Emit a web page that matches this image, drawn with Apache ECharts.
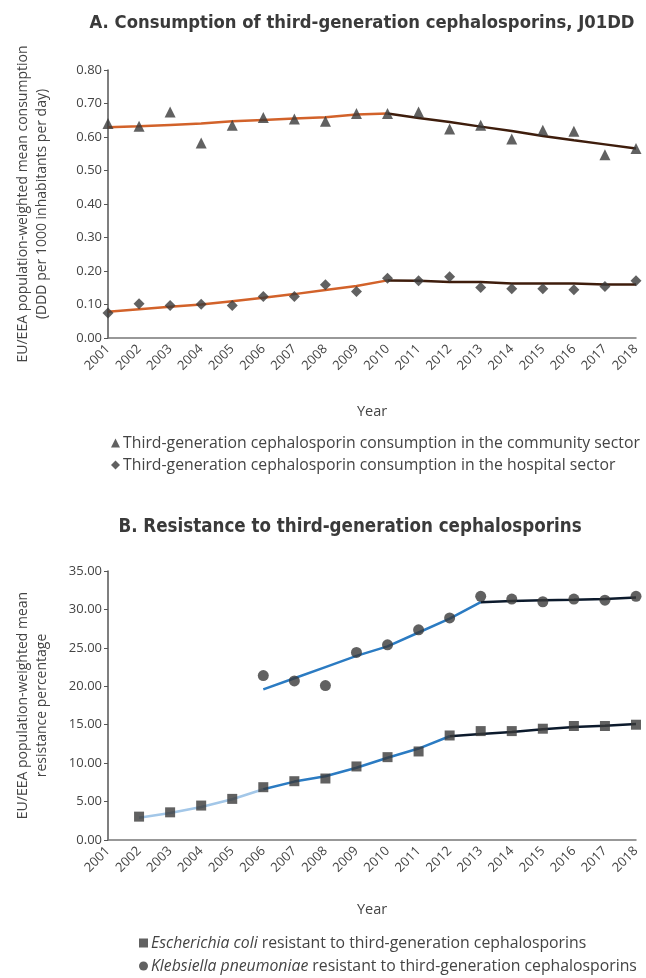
<!DOCTYPE html>
<html><head><meta charset="utf-8">
<script src="https://cdn.jsdelivr.net/npm/echarts@6/dist/echarts.min.js"></script>
<style>html,body{margin:0;padding:0;background:#fff}#c{width:646px;height:978px}</style>
</head><body><div id="c"></div>
<script>
const years = ['2001','2002','2003','2004','2005','2006','2007','2008','2009','2010','2011','2012','2013','2014','2015','2016','2017','2018'];
const N = '-';
// Panel A (DDD per 1000 inhabitants per day)
const communityObs   = [0.640,0.632,0.675,0.582,0.635,0.658,0.654,0.647,0.670,0.670,0.675,0.624,0.635,0.594,0.620,0.617,0.547,0.566];
const communityTrend1 = [0.629,0.632,0.636,0.640,0.647,0.651,0.655,0.659,0.667,0.670,N,N,N,N,N,N,N,N];
const communityTrend2 = [N,N,N,N,N,N,N,N,N,0.670,0.657,0.645,0.631,0.618,0.603,0.590,0.578,0.566];
const hospitalObs    = [0.075,0.102,0.097,0.101,0.097,0.124,0.124,0.159,0.139,0.178,0.171,0.183,0.151,0.147,0.147,0.144,0.154,0.171];
const hospitalTrend1 = [0.078,0.086,0.093,0.100,0.110,0.120,0.131,0.143,0.155,0.172,N,N,N,N,N,N,N,N];
const hospitalTrend2 = [N,N,N,N,N,N,N,N,N,0.172,0.171,0.167,0.167,0.163,0.163,0.163,0.160,0.160];
// Panel B (resistance %)
const ecoliObs    = [N,3.04,3.60,4.48,5.35,6.87,7.65,8.00,9.57,10.78,11.52,13.60,14.17,14.17,14.48,14.83,14.83,15.00];
const ecoliTrend1 = [N,2.9,3.5,4.3,5.3,6.6,N,N,N,N,N,N,N,N,N,N,N,N];
const ecoliTrend2 = [N,N,N,N,N,6.6,7.6,8.3,9.4,10.7,11.9,13.5,N,N,N,N,N,N];
const ecoliTrend3 = [N,N,N,N,N,N,N,N,N,N,N,13.5,13.8,14.05,14.4,14.7,14.85,15.1];
const klebObs    = [N,N,N,N,N,21.4,20.7,20.1,24.4,25.4,27.35,28.9,31.7,31.35,31.0,31.35,31.2,31.7];
const klebTrend1 = [N,N,N,N,N,19.6,21.05,22.5,23.95,25.2,27.0,28.8,30.95,N,N,N,N,N];
const klebTrend2 = [N,N,N,N,N,N,N,N,N,N,N,N,30.95,31.1,31.2,31.25,31.35,31.55];

const ySteps1 = {min:0, max:0.8, interval:0.1};
const ySteps2 = {min:0, max:35, interval:5};

const FONT = '"Open Sans", "Noto Sans", sans-serif';
const TFONT = '"Liberation Sans Narrow", "DejaVu Sans Condensed", "Roboto", sans-serif';
const txt = '#444';
const mk = '#3a3a3a';

const chart = echarts.init(document.getElementById('c'), null, {renderer:'canvas'});

function xAxis(gi, gap){
  return {
    type:'category', gridIndex:gi, data:years, boundaryGap:false,
    axisLine:{lineStyle:{color:'#777', width:1.5}},
    axisTick:{show:false},
    axisLabel:{rotate:45, color:txt, fontFamily:FONT, fontSize:13, margin:9},
    name:'Year', nameLocation:'middle', nameGap: gap,
    nameTextStyle:{color:txt, fontFamily:FONT, fontSize:14.5}
  };
}
function yAxis(gi, st, name){
  return {
    type:'value', gridIndex:gi, min:st.min, max:st.max, interval:st.interval,
    axisLine:{show:true, lineStyle:{color:'#555', width:1.5}},
    axisTick:{show:true, length:4, lineStyle:{color:'#555'}},
    splitLine:{show:false},
    axisLabel:{color:txt, fontFamily:FONT, fontSize:13, margin:6, formatter:v=>v.toFixed(2)},
    name:name, nameLocation:'middle', nameRotate:90, nameGap:56,
    nameTextStyle:{color:txt, fontFamily:FONT, fontSize:14, lineHeight:19}
  };
}
function trend(name, data, color, xi){
  return {name, type:'line', xAxisIndex:xi, yAxisIndex:xi, data, symbol:'none',
    lineStyle:{color, width:2.5}, z:2, silent:true, connectNulls:false};
}
function obs(name, data, symbol, size, xi){
  return {name, type:'scatter', xAxisIndex:xi, yAxisIndex:xi, data, symbol, symbolSize:size,
    itemStyle:{color:mk}, z:5};
}

const orange = '#d2622a', brown = '#3e1d0c';
const blue = '#2b7bc2', lblue = '#a3c7e8', navy = '#0c1a2c';

chart.setOption({
  animation:false,
  title:[
    {text:'A. Consumption of third-generation cephalosporins, J01DD', left:357, top:9, textAlign:'center',
     textStyle:{fontFamily:TFONT, fontWeight:'bold', fontSize:18.3, color:'#3a3a3a'}},
    {text:'B. Resistance to third-generation cephalosporins', left:345, top:513, textAlign:'center',
     textStyle:{fontFamily:TFONT, fontWeight:'bold', fontSize:18.6, color:'#3a3a3a'}}
  ],
  grid:[
    {left:108, top:70, width:528, height:268, containLabel:false},
    {left:108, top:571, width:528, height:269, containLabel:false}
  ],
  xAxis:[xAxis(0, 66), xAxis(1, 62)],
  yAxis:[
    yAxis(0, ySteps1, 'EU/EEA population-weighted mean consumption\n(DDD per 1000 inhabitants per day)'),
    yAxis(1, ySteps2, 'EU/EEA population-weighted mean\nresistance percentage')
  ],
  legend:[
    {orient:'vertical', left:106, top:430, height:60, itemGap:6, itemWidth:9, itemHeight:9,
     data:[{name:'Third-generation cephalosporin consumption in the community sector', icon:'triangle'},
           {name:'Third-generation cephalosporin consumption in the hospital sector', icon:'diamond'}],
     textStyle:{fontFamily:FONT, fontSize:15.8, color:txt, padding:[0,0,0,-2]}},
    {orient:'vertical', left:134, top:930, height:60, itemGap:7, itemWidth:9, itemHeight:9,
     data:[{name:'ecoli', icon:'rect'},{name:'kleb', icon:'circle'}],
     formatter: n => n==='ecoli' ? '{i|Escherichia coli} resistant to third-generation cephalosporins'
                                  : '{i|Klebsiella pneumoniae} resistant to third-generation cephalosporins',
     textStyle:{fontFamily:FONT, fontSize:15.8, color:txt, padding:[0,0,0,-2],
       rich:{i:{fontStyle:'italic', fontFamily:FONT, fontSize:15.8, color:txt}}}}
  ],
  series:[
    trend('ct1', communityTrend1, orange, 0),
    trend('ct2', communityTrend2, brown, 0),
    trend('ht1', hospitalTrend1, orange, 0),
    trend('ht2', hospitalTrend2, brown, 0),
    obs('Third-generation cephalosporin consumption in the community sector', communityObs, 'triangle', 11, 0),
    obs('Third-generation cephalosporin consumption in the hospital sector', hospitalObs, 'diamond', 11, 0),
    trend('et1', ecoliTrend1, lblue, 1),
    trend('et2', ecoliTrend2, blue, 1),
    trend('et3', ecoliTrend3, navy, 1),
    trend('kt1', klebTrend1, blue, 1),
    trend('kt2', klebTrend2, navy, 1),
    obs('ecoli', ecoliObs, 'rect', 10, 1),
    obs('kleb', klebObs, 'circle', 11, 1)
  ]
});
</script></body></html>
